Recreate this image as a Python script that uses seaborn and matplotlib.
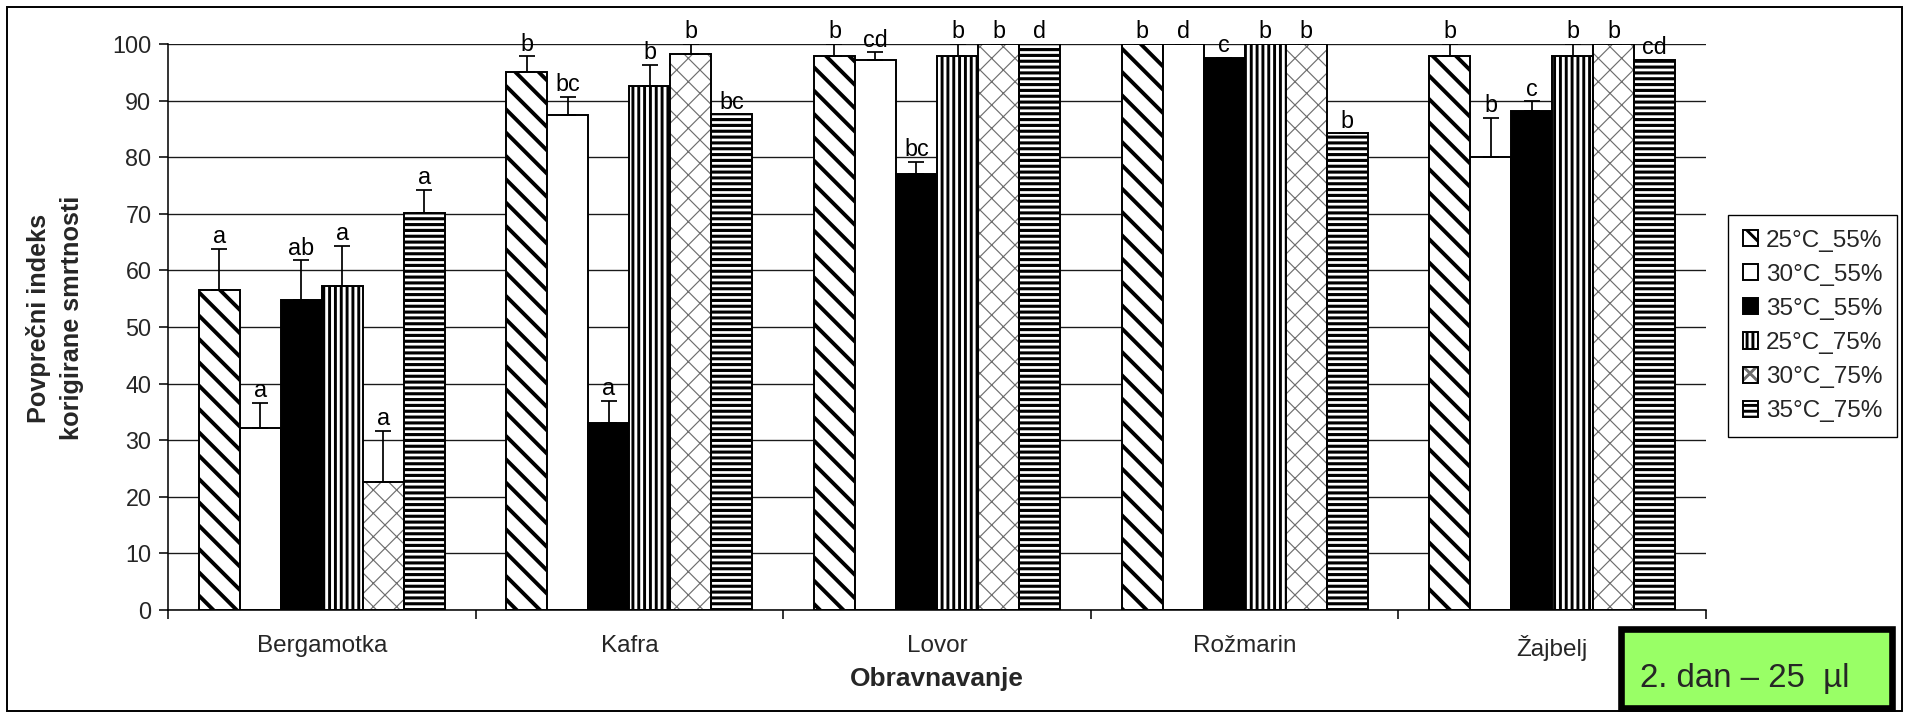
import numpy as np
import pandas as pd
import matplotlib
matplotlib.use("Agg")
import matplotlib.pyplot as plt
import seaborn as sns
from matplotlib.patches import Rectangle, Patch

# ---------------- data ----------------
categories = ['Bergamotka', 'Kafra', 'Lovor', 'Rožmarin', 'Žajbelj']
series = ['25°C_55%', '30°C_55%', '35°C_55%', '25°C_75%', '30°C_75%', '35°C_75%']

v_25_55 = [56.5, 95.0, 97.8, 100.0, 97.8]
v_30_55 = [32.2, 87.5, 97.2, 100.0, 80.1]
v_35_55 = [54.8, 33.0, 77.1, 97.6, 88.2]
v_25_75 = [57.2, 92.5, 97.8, 100.0, 97.8]
v_30_75 = [22.6, 98.2, 100.0, 100.0, 100.0]
v_35_75 = [70.2, 87.6, 100.0, 84.2, 97.2]

e_25_55 = [7.3, 2.8, 2.2, 0.0, 2.2]
e_30_55 = [4.4, 3.2, 1.3, 0.0, 6.9]
e_35_55 = [7.0, 3.9, 2.1, 0.0, 1.7]
e_25_75 = [7.1, 3.8, 2.2, 0.0, 2.2]
e_30_75 = [9.1, 1.8, 0.0, 0.0, 0.0]
e_35_75 = [4.0, 0.0, 0.0, 0.0, 0.0]

l_25_55 = ['a', 'b', 'b', 'b', 'b']
l_30_55 = ['a', 'bc', 'cd', 'd', 'b']
l_35_55 = ['ab', 'a', 'bc', 'c', 'c']
l_25_75 = ['a', 'b', 'b', 'b', 'b']
l_30_75 = ['a', 'b', 'b', 'b', 'b']
l_35_75 = ['a', 'bc', 'd', 'b', 'cd']

y_ticks = list(range(0, 101, 10))
ylabel = 'Povprečni indeks\nkorigirane smrtnosti'
xlabel = 'Obravnavanje'
note = '2. dan – 25  µl'

values = [v_25_55, v_30_55, v_35_55, v_25_75, v_30_75, v_35_75]
errors = [e_25_55, e_30_55, e_35_55, e_25_75, e_30_75, e_35_75]
letters = [l_25_55, l_30_55, l_35_55, l_25_75, l_30_75, l_35_75]

rows = []
for s, vals in zip(series, values):
    for c, v in zip(categories, vals):
        rows.append({'Obravnavanje': c, 'serija': s, 'vrednost': v})
df = pd.DataFrame(rows)

# ---------------- style ----------------
sns.set_style('white')
plt.rcParams['font.family'] = ['Liberation Sans', 'DejaVu Sans']

DPI = 140
W, H = 1907, 712
fig = plt.figure(figsize=(W / DPI, H / DPI), dpi=DPI)
ax = fig.add_axes([168 / W, 1 - 610 / H, (1706 - 168) / W, (610 - 44) / H])

faces = {'25°C_55%': 'white', '30°C_55%': 'white', '35°C_55%': 'black',
         '25°C_75%': 'white', '30°C_75%': 'white', '35°C_75%': 'white'}
hatches = {'25°C_55%': '\\\\', '30°C_55%': None, '35°C_55%': None,
           '25°C_75%': '||||', '30°C_75%': 'xx', '35°C_75%': '----'}
hatch_lw = {'25°C_55%': 2.0, '30°C_55%': 1.0, '35°C_55%': 1.0,
            '25°C_75%': 1.5, '30°C_75%': 0.6, '35°C_75%': 1.6}
hatch_col = {'30°C_75%': '#6e6e6e'}

sns.barplot(data=df, x='Obravnavanje', y='vrednost', hue='serija',
            order=categories, hue_order=series, palette=faces,
            width=0.8, errorbar=None, edgecolor='black', linewidth=1.0,
            saturation=1, legend=False, ax=ax, zorder=2)


def style_patch(p, s):
    p.set_facecolor(faces[s])
    if hatches[s]:
        p.set_hatch(hatches[s])
    if hasattr(p, 'set_hatch_linewidth'):
        p.set_hatch_linewidth(hatch_lw[s])
    if s in hatch_col:
        p.set_edgecolor(hatch_col[s])
        p.set_linewidth(0)


plt.rcParams['hatch.linewidth'] = 1.5

for s, cont, errs, labs in zip(series, ax.containers, errors, letters):
    xs, tops = [], []
    for p, e, lab in zip(cont.patches, errs, labs):
        style_patch(p, s)
        if s in hatch_col:
            ax.add_patch(Rectangle((p.get_x(), p.get_y()), p.get_width(), p.get_height(),
                                   fill=False, edgecolor='black', linewidth=1.0, zorder=2.1))
        xc = p.get_x() + p.get_width() / 2
        top = p.get_y() + p.get_height()
        xs.append(xc)
        tops.append(top)
        ax.text(xc, top + e + 1.0, lab, ha='center', va='baseline', fontsize=12,
                color='black', zorder=5)
    ax.errorbar(xs, tops, yerr=[np.zeros(len(errs)), errs], fmt='none',
                ecolor='black', elinewidth=0.9, capsize=4.2, capthick=0.9, zorder=4)

# axes
ax.set_ylim(0, 100)
ax.set_xlim(-0.5, len(categories) - 0.5)
ax.set_yticks(y_ticks)
ax.set_yticklabels([str(t) for t in y_ticks])
ax.set_xticks(range(len(categories)))
ax.set_xticklabels(categories)
ax.set_xticks(np.arange(-0.5, len(categories), 1.0), minor=True)
ax.set_xlabel('')
ax.set_ylabel('')
ax.set_axisbelow(True)
ax.yaxis.grid(True, color='#1a1a1a', linewidth=0.7)
ax.xaxis.grid(False)
for side in ['top', 'right']:
    ax.spines[side].set_visible(False)
for side in ['left', 'bottom']:
    ax.spines[side].set_color('black')
    ax.spines[side].set_linewidth(0.8)
ax.tick_params(axis='y', which='major', direction='out', length=4.5, width=0.8,
               color='black', labelsize=12, pad=4, left=True)
ax.tick_params(axis='x', which='major', length=0, labelsize=12.5, pad=13)
ax.tick_params(axis='x', which='minor', direction='out', length=4.5, width=0.8,
               color='black', bottom=True)

# axis titles
fig.text(55 / W, 1 - 318 / H, ylabel, rotation=90, ha='center', va='center',
         fontsize=13, fontweight='bold', linespacing=1.5, multialignment='center')
fig.text(937 / W, 1 - 686 / H, xlabel, ha='center', va='baseline',
         fontsize=13.5, fontweight='bold')

# legend
handles = []
for s in series:
    if s in hatch_col:
        h1 = Patch(facecolor=faces[s], edgecolor=hatch_col[s], hatch=hatches[s], linewidth=0)
        h2 = Patch(facecolor='none', edgecolor='black', linewidth=1.0)
        if hasattr(h1, 'set_hatch_linewidth'):
            h1.set_hatch_linewidth(hatch_lw[s])
        handles.append((h1, h2))
    else:
        h = Patch(facecolor=faces[s], edgecolor='black', hatch=hatches[s], linewidth=1.0)
        if hasattr(h, 'set_hatch_linewidth'):
            h.set_hatch_linewidth(hatch_lw[s])
        handles.append(h)
leg = fig.legend(handles, series, loc='upper left',
                 bbox_to_anchor=(1728 / W, 1 - 215 / H), fontsize=12.5,
                 frameon=True, fancybox=False, framealpha=1, edgecolor='black',
                 handlelength=0.65, handleheight=0.65, handletextpad=0.3,
                 labelspacing=0.5, borderpad=0.6, borderaxespad=0)
leg.get_frame().set_linewidth(0.7)

# figure border
fig.add_artist(Rectangle((7 / W, 1 - 711 / H), (1902 - 7) / W, (711 - 7) / H,
                         transform=fig.transFigure, fill=False, edgecolor='black',
                         linewidth=1.0))
# green note box
fig.add_artist(Rectangle((1620.5 / W, 1 - 707.5 / H), (1891.5 - 1620.5) / W, (707.5 - 628.5) / H,
                         transform=fig.transFigure, facecolor='#99ff66', edgecolor='black',
                         linewidth=3.4))
fig.text(1640 / W, 1 - 687 / H, note, ha='left', va='baseline', fontsize=17)

fig.savefig('out.png', dpi=DPI)
